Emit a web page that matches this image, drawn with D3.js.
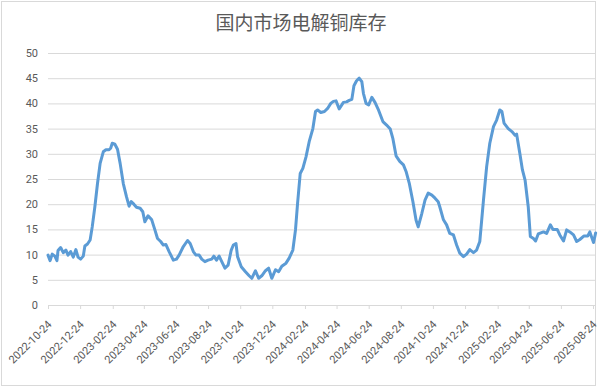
<!DOCTYPE html>
<html>
<head>
<meta charset="utf-8">
<script src="https://cdn.jsdelivr.net/npm/d3@7"></script>
<style>
  html, body { margin: 0; padding: 0; background: #fff; }
  svg { display: block; }
</style>
</head>
<body>
<script>
/* global d3 */
(function() {
  'use strict';

  const title = '国内市场电解铜库存';

  const dates = [
    '2022-10-24', '2022-10-28', '2022-11-01', '2022-11-06', '2022-11-10', '2022-11-12',
    '2022-11-17', '2022-11-22', '2022-11-27', '2022-12-01', '2022-12-06', '2022-12-11',
    '2022-12-16', '2022-12-20', '2022-12-25', '2022-12-30', '2023-01-02', '2023-01-07',
    '2023-01-12', '2023-01-16', '2023-01-21', '2023-01-26', '2023-01-31', '2023-02-06',
    '2023-02-11', '2023-02-17', '2023-02-20', '2023-02-23', '2023-02-28', '2023-03-05',
    '2023-03-10', '2023-03-16', '2023-03-22', '2023-03-27', '2023-03-31', '2023-04-05',
    '2023-04-10', '2023-04-17', '2023-04-22', '2023-04-26', '2023-05-02', '2023-05-09',
    '2023-05-15', '2023-05-20', '2023-05-26', '2023-05-31', '2023-06-05', '2023-06-11',
    '2023-06-19', '2023-06-25', '2023-06-30', '2023-07-08', '2023-07-16', '2023-07-21',
    '2023-07-27', '2023-08-01', '2023-08-07', '2023-08-12', '2023-08-18', '2023-08-24',
    '2023-08-31', '2023-09-04', '2023-09-09', '2023-09-14', '2023-09-19', '2023-09-25',
    '2023-10-01', '2023-10-07', '2023-10-11', '2023-10-16', '2023-10-19', '2023-10-26',
    '2023-11-03', '2023-11-10', '2023-11-15', '2023-11-22', '2023-11-28', '2023-12-04',
    '2023-12-11', '2023-12-17', '2023-12-23', '2023-12-30', '2024-01-05', '2024-01-11',
    '2024-01-19', '2024-01-25', '2024-02-01', '2024-02-06', '2024-02-10', '2024-02-15',
    '2024-02-20', '2024-02-26', '2024-03-03', '2024-03-10', '2024-03-15', '2024-03-19',
    '2024-03-25', '2024-04-01', '2024-04-07', '2024-04-13', '2024-04-18', '2024-04-23',
    '2024-04-29', '2024-05-07', '2024-05-13', '2024-05-18', '2024-05-23', '2024-05-27',
    '2024-06-01', '2024-06-06', '2024-06-11', '2024-06-14', '2024-06-19', '2024-06-24',
    '2024-06-30', '2024-07-06', '2024-07-13', '2024-07-21', '2024-07-28', '2024-08-04',
    '2024-08-09', '2024-08-15', '2024-08-22', '2024-08-29', '2024-09-03', '2024-09-09',
    '2024-09-16', '2024-09-22', '2024-09-26', '2024-10-03', '2024-10-09', '2024-10-15',
    '2024-10-22', '2024-10-28', '2024-11-03', '2024-11-06', '2024-11-13', '2024-11-19',
    '2024-11-25', '2024-12-02', '2024-12-08', '2024-12-14', '2024-12-21', '2024-12-27',
    '2025-01-02', '2025-01-09', '2025-01-15', '2025-01-21', '2025-01-28', '2025-02-03',
    '2025-02-09', '2025-02-16', '2025-02-22', '2025-02-28', '2025-03-04', '2025-03-08',
    '2025-03-16', '2025-03-23', '2025-03-29', '2025-04-01', '2025-04-07', '2025-04-12',
    '2025-04-17', '2025-04-23', '2025-04-27', '2025-05-03', '2025-05-07', '2025-05-12',
    '2025-05-17', '2025-05-22', '2025-05-28', '2025-06-04', '2025-06-09', '2025-06-17',
    '2025-06-22', '2025-06-29', '2025-07-05', '2025-07-11', '2025-07-18', '2025-07-24',
    '2025-07-30', '2025-08-07', '2025-08-14', '2025-08-18', '2025-08-25', '2025-08-29'
  ];

  // 万吨
  const stock = [
    9.9, 8.8, 10.1, 9.7, 8.8, 10.8,
    11.4, 10.4, 10.9, 9.9, 10.6, 9.5,
    11.0, 9.5, 9.1, 9.7, 11.7, 12.1,
    12.9, 15.5, 19.5, 24.1, 28.1, 30.4,
    30.8, 30.8, 31.1, 32.1, 31.9, 30.9,
    28.1, 24.1, 21.5, 19.6, 20.5, 20.0,
    19.4, 19.2, 18.5, 16.5, 17.7, 16.9,
    14.9, 13.2, 12.6, 11.9, 12.0, 10.6,
    8.9, 9.1, 9.9, 11.6, 12.8, 12.2,
    10.6, 9.9, 9.9, 9.1, 8.6, 8.9,
    9.1, 9.7, 8.9, 9.7, 8.6, 7.3,
    7.9, 10.9, 11.9, 12.2, 9.6, 7.6,
    6.6, 5.8, 5.3, 6.8, 5.3, 5.8,
    6.8, 7.3, 5.3, 7.0, 6.6, 7.7,
    8.3, 9.3, 10.9, 14.9, 20.2, 26.1,
    27.1, 29.4, 32.4, 35.0, 38.4, 38.7,
    38.2, 38.4, 39.0, 40.0, 40.4, 40.5,
    38.9, 40.2, 40.3, 40.6, 40.8, 43.5,
    44.5, 45.0, 44.3, 42.0, 40.0, 39.7,
    41.2, 40.2, 38.6, 36.4, 35.7, 34.9,
    33.0, 29.6, 28.5, 27.8, 26.5, 24.2,
    20.5, 16.8, 15.5, 18.2, 20.8, 22.2,
    21.8, 21.2, 20.5, 19.5, 16.9, 15.9,
    14.2, 13.9, 11.9, 10.3, 9.6, 10.1,
    11.0, 10.4, 10.9, 12.6, 20.8, 27.4,
    32.1, 35.4, 36.7, 38.7, 38.4, 36.1,
    35.0, 34.4, 33.7, 33.9, 30.1, 26.8,
    24.8, 19.5, 13.6, 13.2, 12.7, 14.1,
    14.3, 14.5, 14.2, 15.9, 15.0, 15.0,
    13.9, 12.7, 14.9, 14.5, 13.9, 12.6,
    13.0, 13.7, 13.7, 14.5, 12.4, 14.3
  ];

  const xTickLabels = [
    '2022-10-24', '2022-12-24', '2023-02-24', '2023-04-24', '2023-06-24', '2023-08-24',
    '2023-10-24', '2023-12-24', '2024-02-24', '2024-04-24', '2024-06-24', '2024-08-24',
    '2024-10-24', '2024-12-24', '2025-02-24', '2025-04-24', '2025-06-24', '2025-08-24'
  ];
  const yTicks = [0, 5, 10, 15, 20, 25, 30, 35, 40, 45, 50];

  const w = 600;
  const h = 387;
  const left = 48;
  const right = 593;
  const top = 53;
  const bottom = 305;
  const textColor = '#595959';
  const gridColor = '#d9d9d9';
  const font = 'Roboto, "Noto Sans", sans-serif';

  const parse = d3.timeParse('%Y-%m-%d');
  const dataset = dates.map((d, i) => [parse(d), stock[i]]);

  const xScale =
    d3.scaleTime()
      .domain([parse(xTickLabels[0]), parse(xTickLabels[xTickLabels.length - 1])])
      .range([left, right]);

  const yScale =
    d3.scaleLinear()
      .domain([0, 50])
      .range([bottom, top]);

  const svg =
    d3.select('body')
      .append('svg')
      .attr('width', w)
      .attr('height', h);

  svg.append('rect')
    .attr('x', 1.5)
    .attr('y', 1.5)
    .attr('width', 594)
    .attr('height', 384)
    .attr('fill', '#fff')
    .attr('stroke', gridColor);

  svg.append('text')
    .attr('x', 301)
    .attr('y', 30)
    .attr('text-anchor', 'middle')
    .attr('font-family', '"Noto Sans CJK SC", sans-serif')
    .attr('font-size', 19)
    .attr('fill', textColor)
    .text(title);

  // horizontal grid + y labels
  const yAxis = d3.axisLeft(yScale)
    .tickValues(yTicks)
    .tickSize(-(596 - left))
    .tickPadding(10);
  const gy = svg.append('g')
    .attr('id', 'y-axis')
    .attr('transform', 'translate(' + left + ',0)')
    .call(yAxis);
  gy.select('.domain').remove();
  gy.selectAll('line').attr('stroke', gridColor);
  gy.selectAll('text')
    .attr('fill', textColor)
    .attr('font-family', font)
    .attr('font-size', 11);

  // x axis, labels slanted like the spreadsheet original
  const xAxis = d3.axisBottom(xScale)
    .tickValues(xTickLabels.map(parse))
    .tickFormat(d3.timeFormat('%Y-%m-%d'))
    .tickSizeOuter(0)
    .tickSize(4);
  const gx = svg.append('g')
    .attr('id', 'x-axis')
    .attr('transform', 'translate(0,' + bottom + ')')
    .call(xAxis);
  gx.select('.domain')
    .attr('stroke', gridColor)
    .attr('d', 'M' + left + ',0.5H596');
  gx.selectAll('line').attr('stroke', gridColor);
  gx.selectAll('text')
    .attr('fill', textColor)
    .attr('font-family', font)
    .attr('font-size', 11)
    .attr('text-anchor', 'end')
    .attr('x', 0)
    .attr('y', 0)
    .attr('dy', 0)
    .attr('transform', 'translate(4,20) rotate(-45)');

  const line = d3.line()
    .x(d => xScale(d[0]))
    .y(d => yScale(d[1]));

  svg.append('path')
    .datum(dataset)
    .attr('fill', 'none')
    .attr('stroke', '#5b9bd5')
    .attr('stroke-width', 3)
    .attr('stroke-linejoin', 'round')
    .attr('stroke-linecap', 'round')
    .attr('d', line);
}());
</script>
</body>
</html>
